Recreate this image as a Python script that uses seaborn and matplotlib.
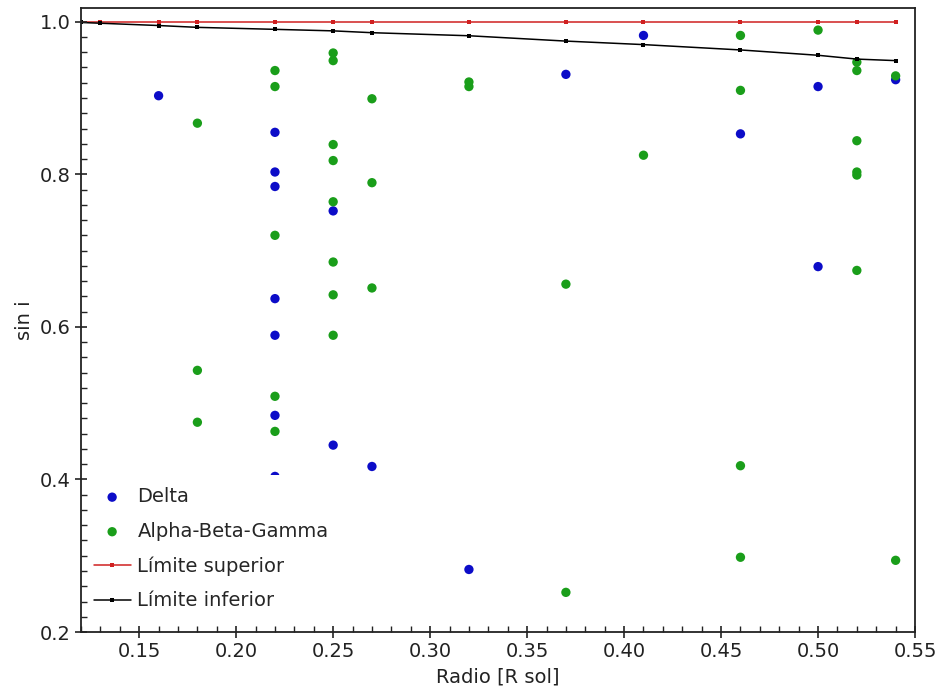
import matplotlib
matplotlib.use('Agg')
import matplotlib.pyplot as plt
import seaborn as sns
from matplotlib.ticker import MultipleLocator

# Delta
delta_r = [0.16, 0.22, 0.22, 0.22, 0.22, 0.22, 0.22, 0.22,
           0.25, 0.25, 0.27, 0.32, 0.37, 0.41, 0.46, 0.50, 0.50, 0.54]
delta_sini = [0.903, 0.855, 0.803, 0.784, 0.637, 0.589, 0.484, 0.404,
              0.752, 0.445, 0.417, 0.282, 0.931, 0.982, 0.853, 0.915, 0.679, 0.924]

# Alpha-Beta-Gamma
abg_r = [0.18, 0.18, 0.18,
         0.22, 0.22, 0.22, 0.22, 0.22,
         0.25, 0.25, 0.25, 0.25, 0.25, 0.25, 0.25, 0.25,
         0.27, 0.27, 0.27,
         0.32, 0.32,
         0.37, 0.37,
         0.41,
         0.46, 0.46, 0.46, 0.46,
         0.50,
         0.52, 0.52, 0.52, 0.52, 0.52, 0.52,
         0.54, 0.54]
abg_sini = [0.867, 0.543, 0.475,
            0.936, 0.915, 0.720, 0.509, 0.463,
            0.959, 0.949, 0.839, 0.818, 0.764, 0.685, 0.642, 0.589,
            0.899, 0.789, 0.651,
            0.921, 0.915,
            0.656, 0.252,
            0.825,
            0.982, 0.910, 0.418, 0.298,
            0.989,
            0.947, 0.936, 0.844, 0.803, 0.799, 0.674,
            0.929, 0.294]

# limites
lim_r = [0.12, 0.13, 0.16, 0.18, 0.22, 0.25, 0.27, 0.32, 0.37, 0.41, 0.46, 0.50, 0.52, 0.54]
lim_sup = [1.0] * len(lim_r)
lim_inf = [0.999, 0.998, 0.995, 0.9926, 0.990, 0.988, 0.9856, 0.9816,
           0.9746, 0.970, 0.963, 0.956, 0.951, 0.949]

sns.set_style('ticks')
plt.rcParams['font.family'] = ['DejaVu Sans']

fig = plt.figure(figsize=(9.41, 7.0), dpi=100)
ax = fig.add_axes([0.0861, 0.0971, 0.8863, 0.8915])

sns.scatterplot(x=delta_r, y=delta_sini, color='#0c0cc8', s=45, edgecolor='none',
                label='Delta', ax=ax, zorder=2)
sns.scatterplot(x=abg_r, y=abg_sini, color='#1a9e1a', s=45, edgecolor='none',
                label='Alpha-Beta-Gamma', ax=ax, zorder=3)
sns.lineplot(x=lim_r, y=lim_sup, color='#d02020', marker='s', markersize=3.5,
             markeredgewidth=0, linewidth=1.1, label='Límite superior', ax=ax, zorder=4)
sns.lineplot(x=lim_r, y=lim_inf, color='black', marker='s', markersize=3.5,
             markeredgewidth=0, linewidth=1.1, label='Límite inferior', ax=ax, zorder=4)

ax.set_xlim(0.12, 0.55)
ax.set_ylim(0.2, 1.018)
ax.xaxis.set_major_locator(MultipleLocator(0.05))
ax.xaxis.set_minor_locator(MultipleLocator(0.01))
ax.yaxis.set_major_locator(MultipleLocator(0.2))
ax.yaxis.set_minor_locator(MultipleLocator(0.02))
ax.tick_params(which='major', direction='inout', length=8, width=1.2, labelsize=14, colors='#222222')
ax.tick_params(which='minor', direction='in', length=4, width=1.0, colors='#222222')

for sp in ax.spines.values():
    sp.set_linewidth(1.3)
    sp.set_color('#222222')
    sp.set_zorder(12)
ax.xaxis.set_zorder(12)
ax.yaxis.set_zorder(12)

ax.set_xlabel('Radio [R sol]', fontsize=14, color='#222222', labelpad=4)
ax.set_ylabel('sin i', fontsize=14, color='#222222', labelpad=4)

leg = ax.legend(loc='lower left', bbox_to_anchor=(-0.007, 0.005), fontsize=14,
                frameon=True, facecolor='white', edgecolor='none', framealpha=1,
                handlelength=1.9, handletextpad=0.35, labelspacing=0.8,
                borderaxespad=0.3, borderpad=0.65)
leg.set_zorder(10)

fig.savefig('out.png', dpi=100, facecolor='white')
